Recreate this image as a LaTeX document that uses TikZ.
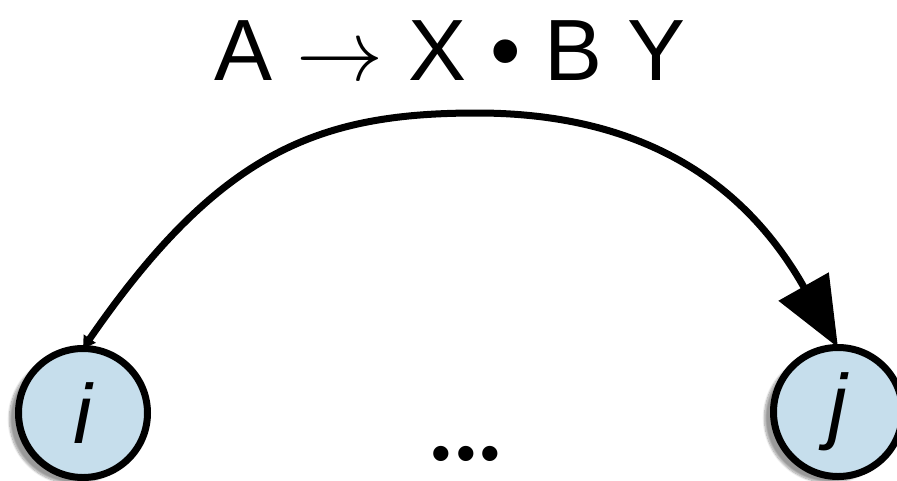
\RequirePackage{fix-cm}
\documentclass[tikz,border=0pt]{standalone}
\usepackage{fontspec}
\setmainfont{Liberation Sans}
\usetikzlibrary{arrows.meta,shadows.blur}
\definecolor{nodefill}{RGB}{198,222,236}
\tikzset{
  statenode/.style={circle, draw=black, line width=7pt, fill=nodefill, minimum size=129pt,
    inner sep=0pt, outer sep=0pt, font=\fontsize{84}{84}\selectfont\itshape,
    blur shadow={shadow xshift=-9pt, shadow yshift=-6pt, shadow blur steps=14, shadow opacity=40}},
  edge/.style={line width=7pt}
}
\begin{document}
\begin{tikzpicture}[x=1pt,y=-1pt]
\useasboundingbox (0,0) rectangle (897,480);
\node[anchor=base, inner sep=0pt, font=\fontsize{87}{87}\selectfont] (title) at (450,80) {A $\rightarrow$ X \textbullet{} B Y};
\node[statenode] (i) at (83,413) {i};
\node[statenode] (j) at (838,412) {j};
\node[anchor=base, inner sep=0pt, font=\fontsize{56}{56}\selectfont] (dots) at (466,472) {\textbullet\hspace{5pt}\textbullet\hspace{5pt}\textbullet};
\coordinate (top) at (477,113);
\draw[edge, {Triangle[length=12pt,width=14pt]}-{Triangle[length=70pt,width=56pt]}]
  (i.north) .. controls (220,150) and (320,113) .. (top)
  .. controls (620,113) and (735,165) .. (j.north);
\end{tikzpicture}
\end{document}
